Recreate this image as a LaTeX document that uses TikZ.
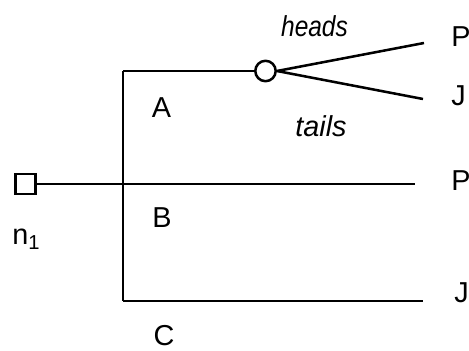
\documentclass[tikz,border=0pt]{standalone}
\usepackage{fontspec}
\setmainfont{Liberation Sans}
\usetikzlibrary{positioning}

\begin{document}
\begin{tikzpicture}[line width=1.8pt,
    every node/.style={font=\fontsize{20.5}{24}\selectfont},
    decision/.style={draw, rectangle, minimum size=0.51cm, inner sep=0pt},
    chance/.style={draw, circle, minimum size=0.51cm, inner sep=0pt},
    lbl/.style={anchor=base, inner sep=0pt},
    outcome/.style={anchor=base west, inner sep=0pt}]
  \useasboundingbox (0,0) rectangle (11.725,8.75);

  % Decision node n_1 and its trunk
  \node[decision] (n1) at (0.6375,4.15) {};
  \node[outcome] (n1lbl) at (0.28,2.625) {n\textsubscript{1}};
  \coordinate (topA) at (3.075,6.975);
  \coordinate (botC) at (3.075,1.225);
  \draw (topA) -- (botC);

  % Option A leads to a coin toss
  \node[chance] (toss) at (6.6375,6.975) {};
  \draw (topA) -- (toss);
  \coordinate (endH) at (10.6,7.675);
  \coordinate (endT) at (10.575,6.275);
  \draw (toss.east) -- (endH);
  \draw (toss.east) -- (endT);
  \node[lbl] (heads) at (7.8625,7.825) {\scalebox{0.85}[1]{\itshape heads}};
  \node[lbl] (tails) at (8.025,5.325) {\itshape tails};
  \node[outcome] (pA) at (11.25,7.575) {P};
  \node[outcome] (jA) at (11.25,6.1) {J};

  % Option B straight through
  \coordinate (endB) at (10.375,4.15);
  \draw (n1) -- (endB);
  \node[outcome] (pB) at (11.25,3.975) {P};

  % Option C along the bottom
  \coordinate (endC) at (10.575,1.225);
  \draw (botC) -- (endC);
  \node[outcome] (jC) at (11.325,1.175) {J};

  % Option labels
  \node[lbl] (optA) at (4.0375,5.8) {A};
  \node[lbl] (optB) at (4.05,3.05) {B};
  \node[lbl] (optC) at (4.1,0.1) {C};
\end{tikzpicture}
\end{document}
